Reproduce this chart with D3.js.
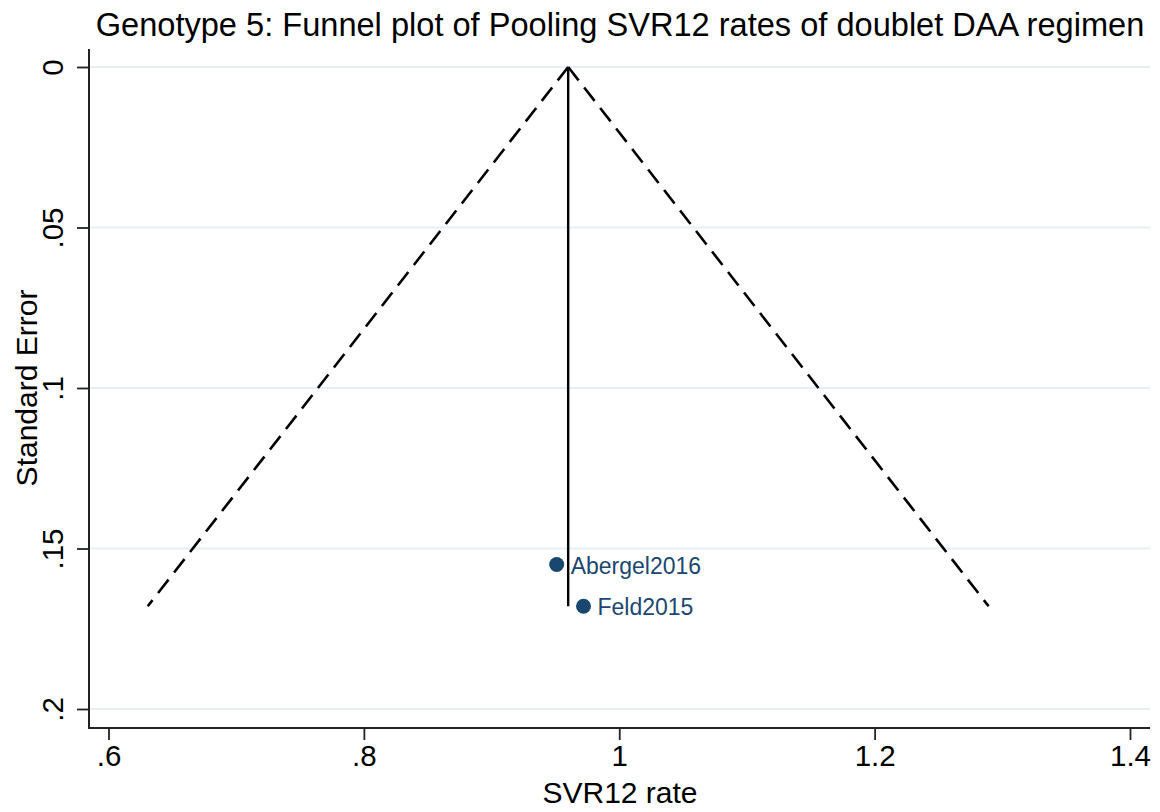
<!DOCTYPE html>
<html>
<head>
<meta charset="utf-8">
<script src="https://cdn.jsdelivr.net/npm/d3@7"></script>
<style>
  body { margin: 0; background: #fff; }
  svg { font-family: "Liberation Sans", Arial, Helvetica, sans-serif; }
</style>
</head>
<body>
<script>
const WIDTH = 1160;
const HEIGHT = 812;

// studies
const studies = ["Abergel2016", "Feld2015"];
const rates = [0.951, 0.972];
const stdErrors = [0.155, 0.168];

// pooled estimate and funnel
const pooled = 0.96;
const funnelSeMax = 0.168;
const z = 1.96;

const xTicks = [0.6, 0.8, 1.0, 1.2, 1.4];
const xTickLabels = [".6", ".8", "1", "1.2", "1.4"];
const yTicks = [0, 0.05, 0.1, 0.15, 0.2];
const yTickLabels = ["0", ".05", ".1", ".15", ".2"];

const NAVY = "#1a476f";
const plotLeft = 89, plotRight = 1150, plotTop = 49, plotBottom = 728;

const svg = d3.select("body").append("svg")
    .attr("width", WIDTH)
    .attr("height", HEIGHT);

const x = d3.scaleLinear().domain([0.6, 1.4]).range([108.5, 1130]);
const y = d3.scaleLinear().domain([0, 0.2]).range([67, 709]);

// gridlines
svg.selectAll(".grid")
    .data(yTicks).enter()
    .append("line")
    .attr("x1", plotLeft).attr("x2", plotRight)
    .attr("y1", d => y(d)).attr("y2", d => y(d))
    .attr("stroke", "#e6eff2")
    .attr("stroke-width", 2);

// x axis
const xAxis = d3.axisBottom(x)
    .tickValues(xTicks)
    .tickFormat((d, i) => xTickLabels[i])
    .tickSize(12)
    .tickPadding(5);
const gx = svg.append("g")
    .attr("transform", `translate(0,${plotBottom})`)
    .call(xAxis);
gx.select(".domain").remove();
gx.selectAll("line").attr("stroke", "#222").attr("stroke-width", 1.8);
gx.selectAll("text").attr("font-size", 29.5).attr("fill", "#000")
    .attr("font-family", "Liberation Sans, Arial, sans-serif");

// y axis
const yAxis = d3.axisLeft(y)
    .tickValues(yTicks)
    .tickFormat((d, i) => yTickLabels[i])
    .tickSize(12)
    .tickPadding(0);
const gy = svg.append("g")
    .attr("transform", `translate(${plotLeft},0)`)
    .call(yAxis);
gy.select(".domain").remove();
gy.selectAll("line").attr("stroke", "#222").attr("stroke-width", 1.8);
gy.selectAll("text")
    .attr("font-size", 29.5).attr("fill", "#000")
    .attr("font-family", "Liberation Sans, Arial, sans-serif")
    .attr("text-anchor", "middle")
    .attr("dy", 0)
    .attr("x", 0).attr("y", 0)
    .attr("transform", "translate(-26,0) rotate(-90)");

// axis lines
svg.append("line")
    .attr("x1", plotLeft).attr("x2", plotLeft)
    .attr("y1", plotTop).attr("y2", plotBottom + 1)
    .attr("stroke", "#222").attr("stroke-width", 2);
svg.append("line")
    .attr("x1", plotLeft - 1).attr("x2", plotRight)
    .attr("y1", plotBottom).attr("y2", plotBottom)
    .attr("stroke", "#222").attr("stroke-width", 2);

// funnel
const seRange = [0, funnelSeMax];
const lineGen = d3.line().x(d => x(d[0])).y(d => y(d[1]));
[-1, 1].forEach(side => {
    svg.append("path")
        .datum(seRange.map(se => [pooled + side * z * se, se]))
        .attr("d", lineGen)
        .attr("fill", "none")
        .attr("stroke", "#000")
        .attr("stroke-width", 2.6)
        .attr("stroke-dasharray", "17,9");
});

// pooled line
svg.append("path")
    .datum(seRange.map(se => [pooled, se]))
    .attr("d", lineGen)
    .attr("fill", "none")
    .attr("stroke", "#000")
    .attr("stroke-width", 2.4);

// study points
const pts = studies.map((s, i) => ({ name: s, rate: rates[i], se: stdErrors[i] }));
svg.selectAll(".dot")
    .data(pts).enter()
    .append("circle")
    .attr("cx", d => x(d.rate))
    .attr("cy", d => y(d.se))
    .attr("r", 7.5)
    .attr("fill", NAVY);
svg.selectAll(".lbl")
    .data(pts).enter()
    .append("text")
    .attr("x", d => x(d.rate) + 14)
    .attr("y", d => y(d.se) + 9)
    .attr("font-size", 23)
    .attr("fill", NAVY)
    .text(d => d.name);

// titles
svg.append("text")
    .attr("x", 620).attr("y", 36)
    .attr("text-anchor", "middle")
    .attr("font-size", 32.6)
    .attr("fill", "#000")
    .text("Genotype 5: Funnel plot of Pooling SVR12 rates of doublet DAA regimen");

svg.append("text")
    .attr("x", 620).attr("y", 803)
    .attr("text-anchor", "middle")
    .attr("font-size", 30)
    .attr("fill", "#000")
    .text("SVR12 rate");

svg.append("text")
    .attr("transform", `translate(37,${y(0.1)}) rotate(-90)`)
    .attr("text-anchor", "middle")
    .attr("font-size", 30)
    .attr("fill", "#000")
    .text("Standard Error");
</script>
</body>
</html>
